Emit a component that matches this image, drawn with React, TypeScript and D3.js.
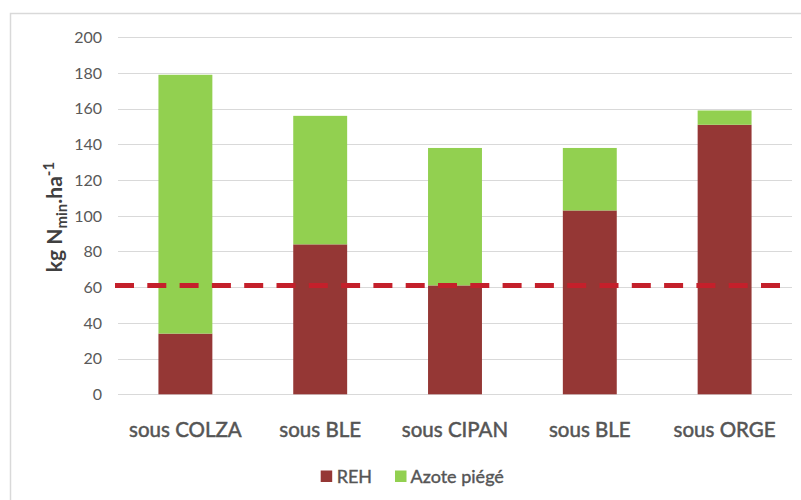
import React, { useRef, useEffect } from 'react';
import * as d3 from 'd3';

// Data
const categories = ['sous COLZA', 'sous BLE', 'sous CIPAN', 'sous BLE ', 'sous ORGE'];
const rehValues = [34, 84, 61, 103, 151];
const azoteValues = [145, 72, 77, 35, 8];
const yTicks = [0, 20, 40, 60, 80, 100, 120, 140, 160, 180, 200];
const thresholdValue = 61;
const seriesNames = ['REH', 'Azote piégé'];

const WIDTH = 801;
const HEIGHT = 500;

export default function App() {
  const svgRef = useRef<SVGSVGElement>(null);

  const colors = ['#953735', '#92d050'];
  const font = 'Lato, "Open Sans", sans-serif';
  const textColor = '#595959';

  useEffect(() => {
    if (!svgRef.current) return;
    const svg = d3.select(svgRef.current);
    svg.selectAll('*').remove();

    const margin = { left: 118, right: 9, top: 37.3, bottom: 105.7 };

    const xScale = d3.scaleBand<number>()
      .domain(categories.map((_, i) => i))
      .range([margin.left, WIDTH - margin.right])
      .paddingInner(0.6)
      .paddingOuter(0.3);

    const yScale = d3.scaleLinear()
      .domain([0, 200])
      .range([HEIGHT - margin.bottom, margin.top]);

    // Chart border (right and bottom edges fall off the picture)
    svg.append('rect')
      .attr('x', 10.5)
      .attr('y', 13.5)
      .attr('width', WIDTH + 20)
      .attr('height', HEIGHT + 20)
      .attr('fill', 'white')
      .attr('stroke', '#d9d9d9')
      .attr('stroke-width', 1.5);

    // Grid lines
    svg.append('g')
      .selectAll('line')
      .data(yTicks)
      .enter()
      .append('line')
      .attr('x1', margin.left)
      .attr('x2', WIDTH - margin.right)
      .attr('y1', d => Math.round(yScale(d)) + 0.5)
      .attr('y2', d => Math.round(yScale(d)) + 0.5)
      .attr('stroke', '#d9d9d9')
      .attr('stroke-width', 1);

    // Tick labels
    svg.append('g')
      .selectAll('text')
      .data(yTicks)
      .enter()
      .append('text')
      .attr('x', 102)
      .attr('y', d => yScale(d))
      .attr('dy', '0.36em')
      .attr('text-anchor', 'end')
      .attr('fill', textColor)
      .attr('font-family', font)
      .attr('font-size', '16px')
      .text(d => d);

    // Stacked bars
    const stackData = categories.map((_, i) => ({ reh: rehValues[i], azote: azoteValues[i], idx: i }));
    const stack = d3.stack<{ reh: number; azote: number; idx: number }>().keys(['reh', 'azote']);
    const series = stack(stackData);

    series.forEach((s, si) => {
      svg.append('g')
        .selectAll('rect')
        .data(s)
        .enter()
        .append('rect')
        .attr('x', d => xScale(d.data.idx) as number)
        .attr('width', xScale.bandwidth())
        .attr('y', d => yScale(d[1]))
        .attr('height', d => yScale(d[0]) - yScale(d[1]))
        .attr('fill', colors[si]);
    });

    // Threshold dashed line
    svg.append('line')
      .attr('x1', 115)
      .attr('x2', 781)
      .attr('y1', yScale(thresholdValue))
      .attr('y2', yScale(thresholdValue))
      .attr('stroke', '#c4202b')
      .attr('stroke-width', 5)
      .attr('stroke-dasharray', '19,13.3');

    // Category labels (slight stroke to mimic the heavier original face)
    svg.append('g')
      .selectAll('text')
      .data(categories)
      .enter()
      .append('text')
      .attr('x', (_, i) => (xScale(i) as number) + xScale.bandwidth() / 2)
      .attr('y', 436.7)
      .attr('text-anchor', 'middle')
      .attr('fill', '#555555')
      .attr('stroke', '#555555')
      .attr('stroke-width', 0.5)
      .attr('font-family', font)
      .attr('font-size', '20.5px')
      .text(d => d.trim());

    // Y axis title
    const yTitle = svg.append('text')
      .attr('transform', 'translate(62,217) rotate(-90)')
      .attr('text-anchor', 'middle')
      .attr('fill', '#404040')
      .attr('font-family', font)
      .attr('font-size', '21px')
      .attr('font-weight', 'bold');
    yTitle.append('tspan').text('kg N');
    yTitle.append('tspan').attr('font-size', '15px').attr('dy', 5).text('min');
    yTitle.append('tspan').attr('dy', -5).text('.ha');
    yTitle.append('tspan').attr('font-size', '15px').attr('dy', -8).text('-1');

    // Legend
    const legendItems = [
      { x: 320.7, textX: 336.7 },
      { x: 395, textX: 410.5 },
    ];
    seriesNames.forEach((name, i) => {
      svg.append('rect')
        .attr('x', legendItems[i].x)
        .attr('y', 470.5)
        .attr('width', 11.5)
        .attr('height', 11.5)
        .attr('fill', colors[i]);
      svg.append('text')
        .attr('x', legendItems[i].textX)
        .attr('y', 476.5)
        .attr('dy', '0.36em')
        .attr('fill', '#555555')
        .attr('stroke', '#555555')
        .attr('stroke-width', 0.4)
        .attr('font-family', font)
        .attr('font-size', '18px')
        .text(name);
    });
  }, []);

  return (
    <div style={{ position: 'absolute', left: 0, top: 0, width: WIDTH, height: HEIGHT }}>
      <svg ref={svgRef} width={WIDTH} height={HEIGHT} style={{ display: 'block' }} />
    </div>
  );
}
